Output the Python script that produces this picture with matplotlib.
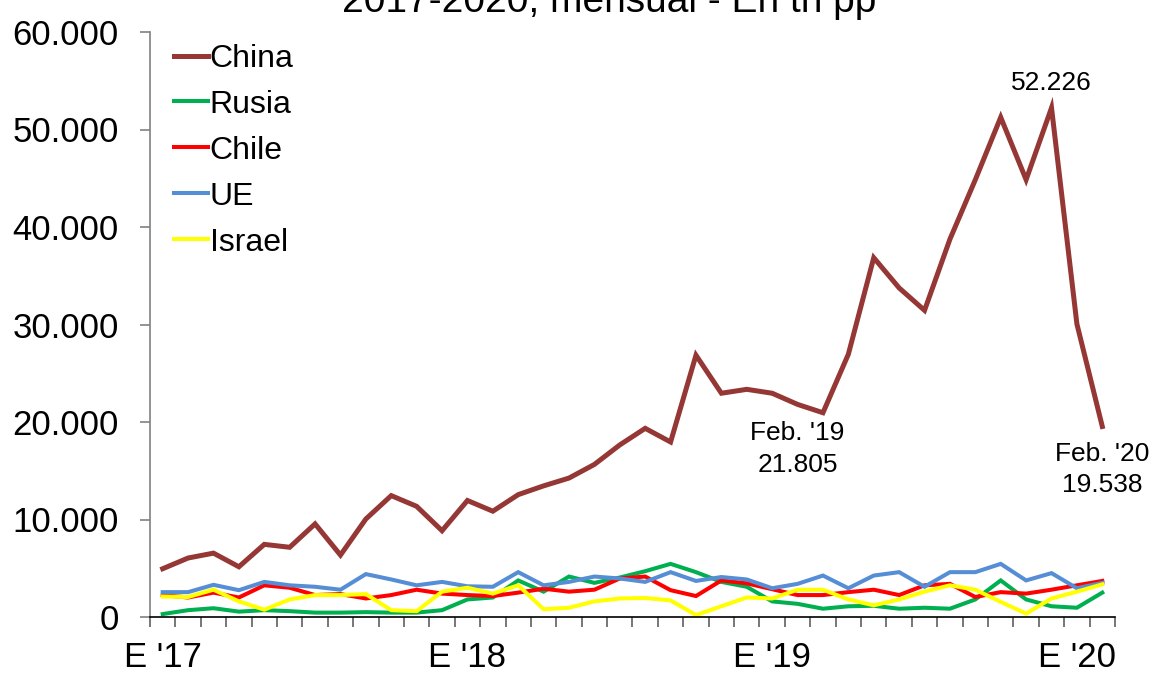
import numpy as np
import matplotlib
matplotlib.use("Agg")
import matplotlib.pyplot as plt
from matplotlib import ticker as mticker

# monthly values, Jan 2017 .. Feb 2020 (tn pp)
china = [4950, 6050, 6550, 5150, 7450, 7150, 9550, 6350, 10050, 12450, 11350, 8850,
         11950, 10850, 12550, 13450, 14250, 15650, 17650, 19350, 17950, 26850, 22950, 23350,
         22950, 21805, 20950, 26950, 36850, 33750, 31450, 38750, 44850, 51250, 44850, 52226,
         30050, 19538]
rusia = [300, 700, 900, 550, 700, 600, 450, 450, 500, 450, 450, 700,
         1800, 2000, 3750, 2600, 4150, 3500, 4050, 4700, 5450, 4600, 3600, 3100,
         1600, 1350, 850, 1100, 1150, 850, 950, 850, 1800, 3750, 1800, 1100,
         950, 2500]
chile = [2250, 2000, 2500, 2000, 3250, 3000, 2250, 2350, 1900, 2250, 2800, 2400,
         2250, 2150, 2500, 2900, 2600, 2800, 3950, 4150, 2750, 2150, 3750, 3450,
         2850, 2250, 2250, 2550, 2800, 2250, 3250, 3400, 2050, 2550, 2400, 2800,
         3250, 3700]
ue = [2550, 2550, 3300, 2750, 3600, 3250, 3100, 2800, 4400, 3850, 3250, 3600,
      3150, 3100, 4600, 3250, 3600, 4150, 3950, 3600, 4600, 3700, 4100, 3850,
      2950, 3400, 4250, 2950, 4250, 4600, 3100, 4600, 4600, 5450, 3750, 4500,
      2950, 3500]
israel = [2100, 2050, 2800, 1600, 750, 1800, 2250, 2250, 2350, 700, 600, 2600,
          3000, 2400, 3250, 800, 950, 1600, 1900, 1950, 1700, 200, 1100, 2000,
          1900, 2800, 2800, 1800, 1200, 1800, 2600, 3250, 2800, 1550, 350, 1900,
          2600, 3350]

series_names = ["China", "Rusia", "Chile", "UE", "Israel"]
series_colors = ["#953735", "#00B050", "#FF0000", "#558ED5", "#FFFF00"]
series_widths = [3.6, 2.9, 2.9, 2.9, 2.9]

xtick_pos = [0, 12, 24, 36]
xtick_labels = ["E '17", "E '18", "E '19", "E '20"]

# (index, text, offset in points)
notes = [(35, "52.226", (0, 18)),
         (25, "Feb. '19\n21.805", (0, -32)),
         (37, "Feb. '20\n19.538", (0, -31))]

plt.rcParams["font.family"] = ["Liberation Sans", "DejaVu Sans"]

fig = plt.figure(figsize=(11.53, 6.74), dpi=100)
ax = fig.add_axes([150/1153, 57/674, 965/1153, 585/674])

x = np.arange(len(china))
for data, name, col, lw in zip([china, rusia, chile, ue, israel], series_names,
                               series_colors, series_widths):
    ax.plot(x, data, color=col, lw=lw, label=name, solid_joinstyle="miter")

ax.set_xlim(-0.5, len(china) - 0.5)
ax.set_ylim(0, 60000)

for s in ["top", "right"]:
    ax.spines[s].set_visible(False)
ax.spines["left"].set_color("#808080")
ax.spines["left"].set_linewidth(1.2)
ax.spines["bottom"].set_color("#000000")
ax.spines["bottom"].set_linewidth(1.2)

ax.yaxis.set_major_locator(mticker.MultipleLocator(10000))
ax.yaxis.set_major_formatter(mticker.FuncFormatter(lambda v, p: f"{int(v):,}".replace(",", ".")))
ax.tick_params(axis="y", direction="out", length=7.5, width=1.2, color="#808080",
               labelsize=25, pad=15)

# category boundaries as major ticks, labels on minor ticks
ax.set_xticks(np.arange(-0.5, len(china), 1.0))
ax.set_xticklabels([])
ax.tick_params(axis="x", which="major", direction="out", length=7.5, width=1.2, color="#606060")
ax.set_xticks(xtick_pos, minor=True)
ax.set_xticklabels(xtick_labels, minor=True)
ax.tick_params(axis="x", which="minor", length=0, labelsize=25, pad=17)

leg = ax.legend(loc="upper left", bbox_to_anchor=(0.025, 0.98), frameon=False,
                fontsize=23, handlelength=1.05, handletextpad=0.06, labelspacing=0.5,
                borderaxespad=0, borderpad=0)

for idx, txt, off in notes:
    ax.annotate(txt, xy=(idx, china[idx]), xytext=off, textcoords="offset points",
                ha="center", va="center", fontsize=19, linespacing=1.4)

fig.text(609/1153, 1 - 12/674, "2017-2020, mensual - En tn pp", ha="center",
         va="baseline", fontsize=28)

fig.savefig("out.png", dpi=100)
